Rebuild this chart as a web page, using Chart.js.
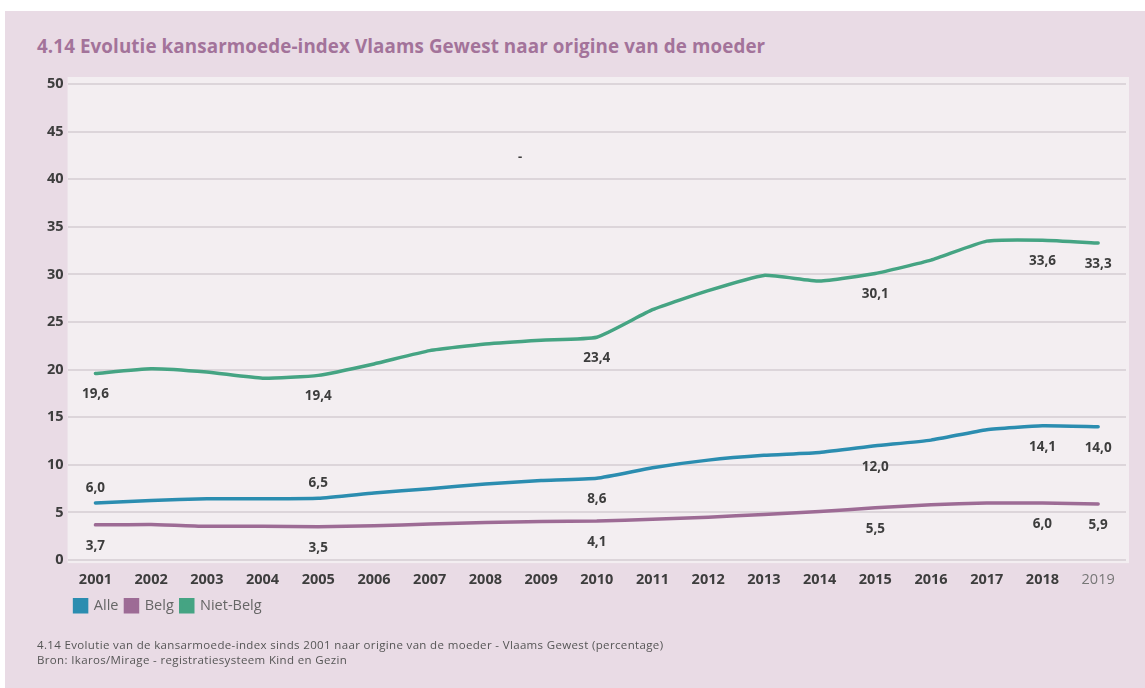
<!DOCTYPE html>
<html>
<head>
<meta charset="utf-8">
<script src="https://cdn.jsdelivr.net/npm/chart.js@4/dist/chart.umd.min.js"></script>
<style>
  body { margin: 0; background: #fff; font-family: 'Open Sans', sans-serif; }
  #panel { position: absolute; left: 5px; top: 11px; width: 1140px; height: 677px; background: #e9dbe5; }
  #title { position: absolute; left: 37px; top: 33px; font-size: 18.8px; font-weight: bold; color: #a3739a; letter-spacing: 0.1px; }
  #note { position: absolute; left: 37px; top: 637px; font-size: 11.5px; line-height: 15px; color: #555; letter-spacing: 0.35px; }
  #myChart { position: absolute; left: 0; top: 0; }
</style>
</head>
<body>
<div id="panel"></div>
<div id="title">4.14 Evolutie kansarmoede-index Vlaams Gewest naar origine van de moeder</div>
<canvas id="myChart" width="1145" height="688"></canvas>
<div id="note">4.14 Evolutie van de kansarmoede-index sinds 2001 naar origine van de moeder - Vlaams Gewest (percentage)<br>Bron: Ikaros/Mirage - registratiesysteem Kind en Gezin</div>
<script>
const years = ['2001', '2002', '2003', '2004', '2005', '2006', '2007', '2008', '2009', '2010',
  '2011', '2012', '2013', '2014', '2015', '2016', '2017', '2018', '2019'];
const alle = [6.0, 6.25, 6.45, 6.45, 6.5, 7.05, 7.5, 8.0, 8.35, 8.6,
  9.7, 10.5, 11.0, 11.3, 12.0, 12.6, 13.7, 14.1, 14.0];
const belg = [3.7, 3.75, 3.55, 3.55, 3.5, 3.6, 3.8, 3.95, 4.05, 4.1,
  4.3, 4.5, 4.8, 5.1, 5.5, 5.8, 6.0, 6.0, 5.9];
const nietBelg = [19.6, 20.1, 19.75, 19.1, 19.4, 20.6, 22.0, 22.7, 23.1, 23.4,
  26.3, 28.3, 29.9, 29.3, 30.1, 31.5, 33.5, 33.6, 33.3];
const labelYears = ['2001', '2005', '2010', '2015', '2018', '2019'];
const yTicks = [0, 5, 10, 15, 20, 25, 30, 35, 40, 45, 50];

const textDark = '#3d3d3d';

// light plot background + stray dash from the original
const plotBg = {
  id: 'plotBg',
  beforeDraw(chart) {
    const { ctx, chartArea: a } = chart;
    ctx.save();
    ctx.fillStyle = '#f3eef1';
    ctx.fillRect(a.left, a.top - 7, a.right - a.left + 3, a.bottom - a.top + 10);
    ctx.fillStyle = textDark;
    ctx.font = 'bold 13px "Open Sans"';
    ctx.textAlign = 'center';
    ctx.fillText('-', 520, 157);
    ctx.restore();
  }
};

// value labels
const valueLabels = {
  id: 'valueLabels',
  afterDatasetsDraw(chart) {
    const ctx = chart.ctx;
    ctx.save();
    ctx.font = 'bold 13.5px "Open Sans"';
    ctx.fillStyle = textDark;
    ctx.textAlign = 'center';
    ctx.textBaseline = 'middle';
    chart.data.datasets.forEach((ds, di) => {
      const meta = chart.getDatasetMeta(di);
      labelYears.forEach(y => {
        const i = years.indexOf(y);
        const pt = meta.data[i];
        let dy = 21;
        if (ds.label === 'Alle' && i < 5) dy = -15;
        ctx.fillText(ds.data[i].toFixed(1).replace('.', ','), pt.x, pt.y + dy);
      });
    });
    ctx.restore();
  }
};

new Chart('myChart', {
  type: 'line',
  data: {
    labels: years,
    datasets: [
      { label: 'Alle', data: alle, borderColor: '#2b8db0', backgroundColor: '#2b8db0' },
      { label: 'Belg', data: belg, borderColor: '#9d6b95', backgroundColor: '#9d6b95' },
      { label: 'Niet-Belg', data: nietBelg, borderColor: '#45a483', backgroundColor: '#45a483' }
    ]
  },
  options: {
    responsive: false,
    animation: false,
    devicePixelRatio: 1,
    layout: { padding: { left: 43, right: 19, top: 84, bottom: 65 } },
    elements: {
      line: { borderWidth: 3.5, tension: 0.15, borderCapStyle: 'round' },
      point: { radius: 0 }
    },
    scales: {
      x: {
        offset: true,
        grid: { display: false },
        border: { display: false },
        ticks: {
          padding: 3,
          color: ctx => ctx.index === 18 ? '#777' : textDark,
          font: ctx => ({ family: 'Open Sans', size: 14.5, weight: ctx.index === 18 ? 'normal' : 'bold' })
        }
      },
      y: {
        min: 0,
        max: 50,
        afterBuildTicks: axis => { axis.ticks = yTicks.map(v => ({ value: v })); },
        grid: { color: '#dcd5da', lineWidth: 2, drawTicks: false },
        border: { display: false },
        ticks: {
          padding: 4,
          color: textDark,
          font: { family: 'Open Sans', size: 14.5, weight: 'bold' }
        }
      }
    },
    plugins: {
      legend: {
        position: 'bottom',
        align: 'start',
        fullSize: false,
        labels: {
          boxWidth: 12,
          boxHeight: 12,
          padding: 7,
          color: '#666',
          font: { family: 'Open Sans', size: 14.5 }
        }
      },
      tooltip: { enabled: false }
    }
  },
  plugins: [plotBg, valueLabels]
});
</script>
</body>
</html>
